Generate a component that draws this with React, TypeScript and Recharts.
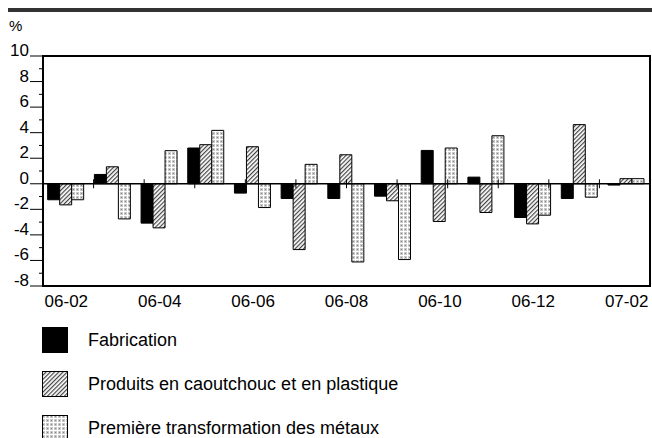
import React from "react";
import { BarChart, Bar, XAxis, YAxis, ReferenceLine, ReferenceArea } from "recharts";

const months = ["06-02", "06-03", "06-04", "06-05", "06-06", "06-07", "06-08", "06-09", "06-10", "06-11", "06-12", "07-01", "07-02"];
const fabrication = [-1.25, 0.73, -3.08, 2.8, -0.73, -1.15, -1.15, -0.97, 2.61, 0.52, -2.64, -1.15, -0.1];
const caoutchouc = [-1.65, 1.33, -3.45, 3.06, 2.9, -5.15, 2.27, -1.33, -2.95, -2.25, -3.14, 4.63, 0.4];
const metaux = [-1.25, -2.75, 2.59, 4.18, -1.86, 1.52, -6.12, -5.93, 2.8, 3.76, -2.46, -1.05, 0.4];
const seriesNames = ["Fabrication", "Produits en caoutchouc et en plastique", "Première transformation des métaux"];
const yTicks = [-8, -7, -6, -5, -4, -3, -2, -1, 0, 1, 2, 3, 4, 5, 6, 7, 8, 9, 10];

const data = months.map((m, i) => ({
    month: m,
    fab: fabrication[i],
    cao: caoutchouc[i],
    met: metaux[i],
}));

const fills = ["#000", "url(#hatch)", "url(#dots)"];
const font = "Arial, 'Liberation Sans', sans-serif";

// small ticks between months, sitting on the zero line
const boundaries = months.slice(1).map((_, i) => i + 1);

const YTick = (props: any) => {
    const { x, y, payload } = props;
    const v = payload.value;
    if (v % 2 !== 0) {
        return <line x1={x - 4} y1={y} x2={x} y2={y} stroke="#000" strokeWidth={1} />;
    }
    return (
        <g>
            <line x1={x - 13} y1={y} x2={x} y2={y} stroke="#000" strokeWidth={1} />
            <text x={x - 14} y={y} textAnchor="end" fontSize={17} fontFamily={font} fill="#000">
                {v}
            </text>
        </g>
    );
};

const XTick = (props: any) => {
    const { x, y, payload } = props;
    return (
        <text x={x} y={y + 21} textAnchor="middle" fontSize={17} fontFamily={font} fill="#000">
            {payload.value}
        </text>
    );
};

export default function App() {
    return (
        <div style={{ position: "relative", width: 652, height: 438, overflow: "hidden", fontFamily: font, background: "#fff" }}>
            <style>{`body { margin: 0; }`}</style>
            <svg width={0} height={0} style={{ position: "absolute" }}>
                <defs>
                    <pattern id="hatch" width={3} height={3} patternUnits="userSpaceOnUse" patternTransform="rotate(45)">
                        <rect width={3} height={3} fill="#fff" />
                        <line x1={0.6} y1={0} x2={0.6} y2={3} stroke="#444" strokeWidth={1.2} />
                    </pattern>
                    <pattern id="dots" width={4} height={4} patternUnits="userSpaceOnUse">
                        <rect width={4} height={4} fill="#fff" />
                        <rect x={0} y={0} width={3} height={3} fill="#c8c8c8" />
                        <rect x={1} y={1} width={1} height={1} fill="#888" />
                    </pattern>
                </defs>
            </svg>

            <div style={{ position: "absolute", left: 8, top: 8, width: 644, height: 4, background: "#333" }} />
            <div style={{ position: "absolute", left: 9, top: 17, fontSize: 15 }}>%</div>

            <div style={{ position: "absolute", left: 0, top: 0 }}>
                <BarChart
                    width={652}
                    height={310}
                    data={data}
                    margin={{ top: 56, right: 2, left: 0, bottom: 0 }}
                    barGap={0}
                    barCategoryGap="10%"
                >
                    <XAxis
                        dataKey="month"
                        height={24}
                        interval={1}
                        tickSize={0}
                        tickMargin={0}
                        tickLine={false}
                        axisLine={false}
                        tick={<XTick />}
                    />
                    <XAxis xAxisId="num" type="number" domain={[0, months.length]} hide />
                    <YAxis
                        domain={[-8, 10]}
                        ticks={yTicks}
                        interval={0}
                        width={43}
                        tickSize={0}
                        tickMargin={0}
                        tickLine={false}
                        axisLine={false}
                        tick={<YTick />}
                    />
                    <ReferenceArea y1={-8} y2={10} fill="none" stroke="#000" strokeWidth={2} />
                    <Bar dataKey="fab" fill={fills[0]} stroke="#000" strokeWidth={1} isAnimationActive={false} />
                    <Bar dataKey="cao" fill={fills[1]} stroke="#000" strokeWidth={1} isAnimationActive={false} />
                    <Bar dataKey="met" fill={fills[2]} stroke="#000" strokeWidth={1} isAnimationActive={false} />
                    <ReferenceLine y={0} stroke="#000" strokeWidth={1.5} />
                    {boundaries.map((b) => (
                        <ReferenceLine
                            key={b}
                            xAxisId="num"
                            segment={[{ x: b, y: -0.35 }, { x: b, y: 0.35 }]}
                            stroke="#000"
                            strokeWidth={1}
                        />
                    ))}
                </BarChart>
            </div>

            {seriesNames.map((name, i) => (
                <div key={name} style={{ position: "absolute", left: 42, top: 327 + i * 44, display: "flex", alignItems: "center", height: 26 }}>
                    <svg width={26} height={26}>
                        <rect x={0.5} y={0.5} width={25} height={25} fill={fills[i]} stroke="#000" strokeWidth={1} />
                    </svg>
                    <span style={{ marginLeft: 20, fontSize: 18, color: "#000" }}>{name}</span>
                </div>
            ))}
        </div>
    );
}
